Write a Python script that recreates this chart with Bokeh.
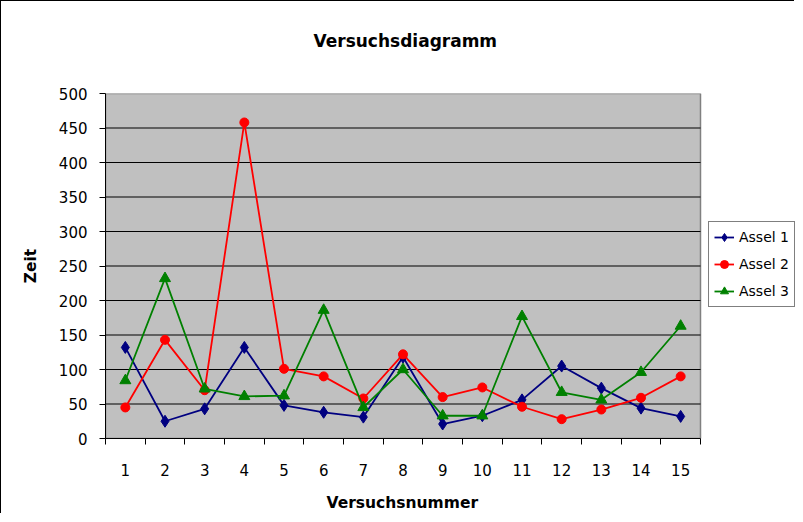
from bokeh.plotting import figure
from bokeh.models import FixedTicker, Legend, LegendItem, Range1d, Title
from bokeh.embed import file_html
from bokeh.resources import INLINE

versuche = [1, 2, 3, 4, 5, 6, 7, 8, 9, 10, 11, 12, 13, 14, 15]
assel1 = [132, 25, 43, 132, 48, 38, 31, 118, 21, 33, 56, 105, 73, 44, 32]
assel2 = [45, 143, 70, 458, 101, 90, 58, 122, 60, 74, 46, 28, 42, 59, 90]
assel3 = [84, 232, 72, 61, 62, 186, 45, 100, 33, 33, 177, 67, 56, 96, 163]
y_ticks = [0, 50, 100, 150, 200, 250, 300, 350, 400, 450, 500]

FONT = "DejaVu Sans"

W, H = 794, 513
LEFT, TOP, BOTTOM = 104, 92, 76
x_lo = versuche[0] - 0.5
x_hi = versuche[-1] + 0.5
# plot area spans 595 px for the 15 categories; frame extends to the right edge for the legend
px_per_unit = 595 / (x_hi - x_lo)
x_end = x_lo + (W - LEFT) / px_per_unit

p = figure(width=W, height=H, output_backend="svg", toolbar_location=None,
           x_range=Range1d(x_lo, x_end), y_range=Range1d(y_ticks[0], y_ticks[-1]),
           min_border_left=LEFT, min_border_right=0, min_border_top=TOP, min_border_bottom=BOTTOM)
p.styles = {"border-left": "1px solid #000000", "border-top": "1px solid #000000"}

p.background_fill_color = "#FFFFFF"
p.border_fill_color = "#FFFFFF"
p.outline_line_color = None

p.title.text = "Versuchsdiagramm"
p.title.text_font = FONT
p.title.text_font_size = "17px"
p.title.text_font_style = "bold"
p.title.text_color = "#000000"
p.title.align = "left"
p.title.offset = 208
p.title.vertical_align = "bottom"
try:
    p.title.padding = dict(left=0, right=0, top=0, bottom=43)
    p.title.standoff = 0
except Exception:
    p.title.standoff = 69

# plot area and grid
p.quad(left=x_lo, right=x_hi, bottom=y_ticks[0], top=y_ticks[-1],
       fill_color="#C0C0C0", line_color="#808080", line_width=1.5)
p.segment(x0=[x_lo] * (len(y_ticks) - 2), x1=[x_hi] * (len(y_ticks) - 2),
          y0=y_ticks[1:-1], y1=y_ticks[1:-1], line_color="#000000", line_width=1)
p.xgrid.visible = False
p.ygrid.visible = False

# y axis
ya = p.yaxis[0]
ya.ticker = FixedTicker(ticks=y_ticks)
ya.axis_label = "Zeit"
ya.axis_label_text_font = FONT
ya.axis_label_text_font_size = "15.5px"
ya.axis_label_text_font_style = "bold"
ya.axis_label_text_color = "#000000"
ya.axis_label_standoff = 16
ya.major_label_text_font = FONT
ya.major_label_text_font_size = "15px"
ya.major_label_text_color = "#000000"
ya.major_label_standoff = 12
ya.major_tick_out = 6
ya.major_tick_in = 0
ya.minor_tick_out = 0
ya.minor_tick_in = 0
ya.axis_line_color = "#000000"
ya.major_tick_line_color = "#000000"

# x axis: labels at categories, ticks at boundaries
xa = p.xaxis[0]
bounds = [v - 0.5 for v in versuche] + [versuche[-1] + 0.5]
xa.ticker = FixedTicker(ticks=versuche, minor_ticks=bounds)
xa.bounds = (x_lo, x_hi)
xa.major_label_text_font = FONT
xa.major_label_text_font_size = "15px"
xa.major_label_text_color = "#000000"
xa.major_label_standoff = 19
xa.major_tick_out = 0
xa.major_tick_in = 0
xa.minor_tick_out = 6
xa.minor_tick_in = 0
xa.minor_tick_line_color = "#000000"
xa.axis_line_color = "#000000"

xtitle = Title(text="Versuchsnummer", align="left", offset=221, vertical_align="top",
               text_font=FONT, text_font_size="15.5px", text_font_style="bold",
               text_color="#000000")
try:
    xtitle.padding = dict(left=0, right=0, top=15, bottom=0)
    xtitle.standoff = 0
except Exception:
    xtitle.standoff = 18
p.add_layout(xtitle, "below")

series = [
    ("Assel 1", assel1, "#000080", "diamond", 12),
    ("Assel 2", assel2, "#FF0000", "circle", 9),
    ("Assel 3", assel3, "#008000", "triangle", 11),
]
items = []
for name, vals, col, marker, size in series:
    ln = p.line(versuche, vals, line_color=col, line_width=1.8)
    sc = p.scatter(versuche, vals, marker=marker, size=size, fill_color=col, line_color=col)
    items.append(LegendItem(label=name, renderers=[ln, sc]))

legend = Legend(items=items, location=(603, 131))
legend.label_text_font = FONT
legend.label_text_font_size = "14px"
legend.label_text_color = "#000000"
legend.glyph_width = 20
legend.glyph_height = 20
legend.label_height = 20
legend.label_standoff = 5
legend.spacing = 7
legend.padding = 5
legend.margin = 0
legend.border_line_color = "#000000"
legend.border_line_width = 1
legend.background_fill_color = "#FFFFFF"
legend.background_fill_alpha = 1
p.add_layout(legend, "center")

open("out.html", "w").write(file_html(p, INLINE))
